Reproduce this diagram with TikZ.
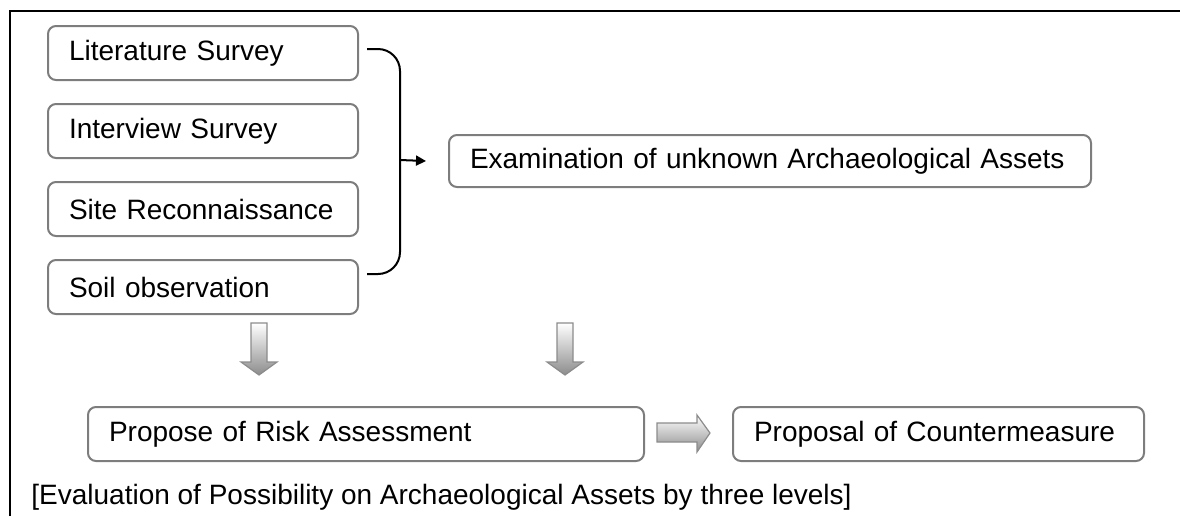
\documentclass[tikz,border=0pt]{standalone}
\usepackage{fontspec}
\setmainfont{Liberation Sans}
\usepackage{tikz}
\usetikzlibrary{positioning,arrows.meta}
\definecolor{boxgray}{RGB}{125,125,125}
\definecolor{arrgray}{RGB}{140,140,140}

\begin{document}
\begin{tikzpicture}[x=0.5pt,y=-0.5pt,
  box/.style={draw=boxgray, line width=1pt, rounded corners=4pt, anchor=north west,
    align=left, inner xsep=10.5pt, inner ysep=0pt, minimum height=27pt,
    font=\fontsize{14}{16}\selectfont},
  blockarrow/.style={draw=arrgray, line width=0.6pt, top color=white, bottom color=arrgray}]
    
    \useasboundingbox (0,0) rectangle (1180,516);
    \draw[line width=1pt] (10,516) -- (10,11) -- (1180,11);
    
    % survey boxes
    \node[box, text width=134pt] (lit) at (47,25) {Literature Survey};
    \node[box, text width=134pt, below=11pt of lit.south west, anchor=north west] (inter) {Interview Survey};
    \node[box, text width=134pt, below=11pt of inter.south west, anchor=north west] (site) {Site Reconnaissance};
    \node[box, text width=134pt, below=11pt of site.south west, anchor=north west] (soil) {Soil observation};
    
    \node[box, text width=300pt, minimum height=26pt] (exam) at (448,134) {Examination of unknown Archaeological Assets};
    
    % brace
    \draw[line width=1pt, rounded corners=11pt] (367,49) -- (400,49) -- (400,274) -- (367,274);
    \coordinate (bmid) at (400,160);
    \draw[line width=1pt, -{Triangle[length=5pt,width=5pt]}] (bmid) -- ([xshift=-11pt]exam.west);
    
    % block arrows
    \foreach \c in {259,565}
      \draw[blockarrow] (\c-8,323) -- (\c+8,323) -- (\c+8,362) -- (\c+18,362) -- (\c,375)
        -- (\c-18,362) -- (\c-8,362) -- cycle;
    
    \node[box, text width=257pt] (risk) at (87,406) {Propose of Risk Assessment};
    \node[box, text width=184.5pt] (counter) at (732,406) {Proposal of Countermeasure};
    
    \draw[blockarrow] (657,423) -- (697,423) -- (697,415) -- (710,433) -- (697,452)
      -- (697,442) -- (657,442) -- cycle;
    
    \node[anchor=west, inner sep=0pt, font=\fontsize{14}{16}\selectfont] (caption) at (31,497)
      {[Evaluation of Possibility on Archaeological Assets by three levels]};
    
\end{tikzpicture}
\end{document}
